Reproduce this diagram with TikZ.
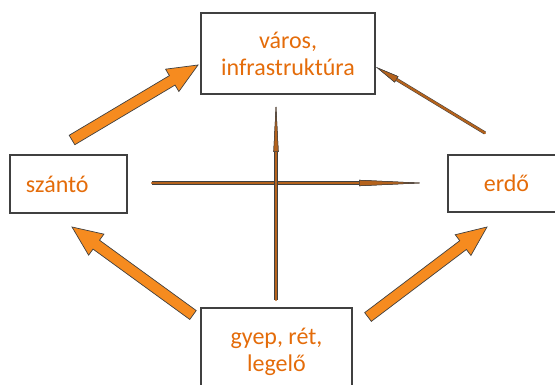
\documentclass[tikz,border=0pt]{standalone}
\usepackage{fontspec}
\setmainfont{Carlito}
\usetikzlibrary{calc,arrows.meta}

\definecolor{txtorange}{HTML}{E46C0A}
\definecolor{arrorange}{HTML}{F68B1F}
\definecolor{linebrown}{HTML}{B4621C}
\definecolor{edgegray}{HTML}{404040}

\tikzset{
  landbox/.style={draw=edgegray, line width=1.2pt, text=txtorange, align=center,
    inner sep=0pt, font=\fontsize{24}{27}\selectfont},
  thinarrow/.style={draw=linebrown, line width=2.2pt,
    preaction={draw=edgegray, line width=3.2pt}},
}

% fat orange arrow from #1 (tail) to #2 (tip)
\newcommand\blockarrow[2]{%
  \coordinate (neck) at ($(#2)!30pt!(#1)$);
  \filldraw[fill=arrorange, draw=edgegray, line width=0.7pt, line join=miter]
    ($(#1)!5.5pt!90:(#2)$) -- ($(neck)!5.5pt!90:(#2)$) -- ($(neck)!13pt!90:(#2)$)
    -- (#2) -- ($(neck)!13pt!-90:(#2)$) -- ($(neck)!5.5pt!-90:(#2)$)
    -- ($(#1)!5.5pt!-90:(#2)$) -- cycle;}

\begin{document}
\begin{tikzpicture}[x=1pt, y=-1pt]
  \useasboundingbox (0,0) rectangle (555,385);
  \clip (0,0) rectangle (555,385);

  % land use boxes
  \node[landbox, minimum width=174pt, minimum height=81pt] (varos) at (288,53.5)
    {város,\\infrastruktúra};
  \node[landbox, minimum width=117pt, minimum height=58pt, text width=85pt,
    align=left, inner xsep=16pt] (szanto) at (68.5,184) {szántó};
  \node[landbox, minimum width=117pt, minimum height=57pt] (erdo) at (506.5,183.5) {erdő};
  \node[landbox, minimum width=151pt, minimum height=87pt] (gyep) at (276.5,351.5)
    {gyep, rét,\\legelő};

  % arrow ends
  \coordinate (a1) at (72,140);  \coordinate (b1) at (198,65);
  \coordinate (a2) at (193,315); \coordinate (b2) at (72,227);
  \coordinate (a3) at (368,317); \coordinate (b3) at (487,227);
  \coordinate (a4) at (485,133); \coordinate (b4) at (376,67);
  \coordinate (a5) at (152,183); \coordinate (b5) at (425,183);
  \coordinate (a6) at (276,300); \coordinate (b6) at (276,102);

  % fat arrows
  \blockarrow{a1}{b1}
  \blockarrow{a2}{b2}
  \blockarrow{a3}{b3}

  % thin arrows
  \draw[thinarrow, line cap=round,
    -{Triangle[length=24pt, width=7pt, color=edgegray, fill=linebrown, line width=0.5pt]}]
    (a4) -- (b4);
  \draw[thinarrow, line cap=round,
    -{Triangle[length=66pt, width=6pt, color=edgegray, fill=linebrown, line width=0.5pt]}]
    (a5) -- (b5);
  \draw[thinarrow, line cap=round,
    -{Triangle[length=50pt, width=5pt, color=edgegray, fill=linebrown, line width=0.5pt]}]
    (a6) -- (b6);
\end{tikzpicture}
\end{document}
